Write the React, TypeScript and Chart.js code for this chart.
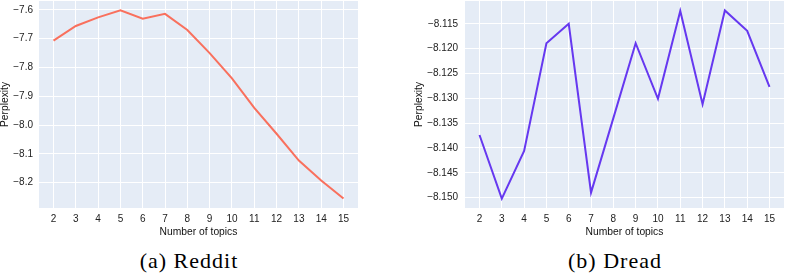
import React, { useEffect, useRef } from "react";
import { Chart, registerables } from "chart.js";

Chart.register(...registerables);

const topics = [2, 3, 4, 5, 6, 7, 8, 9, 10, 11, 12, 13, 14, 15];
const redditPerplexity = [-7.707, -7.656, -7.626, -7.602, -7.631, -7.614, -7.67, -7.75, -7.838, -7.94, -8.03, -8.123, -8.192, -8.255];
const dreadPerplexity = [-8.1374, -8.1502, -8.1406, -8.1189, -8.115, -8.149, -8.134, -8.1189, -8.1301, -8.1124, -8.1312, -8.1123, -8.1164, -8.1277];
const redditYTicks = [-8.2, -8.1, -8.0, -7.9, -7.8, -7.7, -7.6];
const dreadYTicks = [-8.15, -8.145, -8.14, -8.135, -8.13, -8.125, -8.12, -8.115];
const xTitle = "Number of topics";
const yTitle = "Perplexity";

const bgPlugin = {
  id: "plotBg",
  beforeDraw(chart: any) {
    const { ctx, chartArea } = chart;
    if (!chartArea) return;
    ctx.save();
    ctx.fillStyle = "#E5ECF6";
    ctx.fillRect(chartArea.left, chartArea.top, chartArea.right - chartArea.left, chartArea.bottom - chartArea.top);
    ctx.restore();
  },
};

function pad(arr: number[]) {
  const mn = Math.min(...arr);
  const mx = Math.max(...arr);
  const m = (mx - mn) * 0.05;
  return [mn - m, mx + m];
}

type PanelProps = {
  values: number[];
  yTicks: number[];
  decimals: number;
  color: string;
  left: number;
  width: number;
  yWidth: number;
  yPad: number;
};

const CANVAS_H = 237;

function Panel({ values, yTicks, decimals, color, left, width, yWidth, yPad }: PanelProps) {
  const ref = useRef<HTMLCanvasElement | null>(null);
  useEffect(() => {
    if (!ref.current) return;
    const [xmin, xmax] = pad(topics);
    const [ymin, ymax] = pad(values);
    const tickFont = { family: "'Liberation Sans', Arial, sans-serif", size: 10 };
    const titleFont = { family: "'Liberation Sans', Arial, sans-serif", size: 10.3, lineHeight: 1 };
    const chart = new Chart(ref.current, {
      type: "line",
      data: {
        datasets: [
          {
            data: topics.map((t, i) => ({ x: t, y: values[i] })),
            borderColor: color,
            borderWidth: 2,
            pointRadius: 0,
            tension: 0,
            fill: false,
          },
        ],
      },
      options: {
        animation: false,
        responsive: false,
        maintainAspectRatio: false,
        layout: { padding: { top: 1, left: 0, right: 0, bottom: 0 } },
        plugins: { legend: { display: false }, tooltip: { enabled: false } },
        scales: {
          x: {
            type: "linear",
            min: xmin,
            max: xmax,
            afterBuildTicks: (s: any) => {
              s.ticks = topics.map((v) => ({ value: v }));
            },
            afterFit: (s: any) => {
              s.height = 29;
              s.paddingLeft = 0;
              s.paddingRight = 0;
              s.paddingTop = 0;
              s.paddingBottom = 0;
            },
            grid: { color: "#FFFFFF", lineWidth: 1, drawTicks: false },
            border: { display: false },
            ticks: {
              color: "#222",
              font: tickFont,
              padding: 5,
              maxRotation: 0,
              autoSkip: false,
              callback: (v: any) => String(v),
            },
            title: { display: true, text: xTitle, color: "#111", font: titleFont, padding: 0 },
          },
          y: {
            type: "linear",
            min: ymin,
            max: ymax,
            afterBuildTicks: (s: any) => {
              s.ticks = yTicks.map((v) => ({ value: v }));
            },
            afterFit: (s: any) => {
              s.width = yWidth;
              s.paddingLeft = 0;
              s.paddingRight = 0;
              s.paddingTop = 0;
              s.paddingBottom = 0;
            },
            grid: { color: "#FFFFFF", lineWidth: 1, drawTicks: false },
            border: { display: false },
            ticks: {
              color: "#222",
              font: tickFont,
              padding: yPad,
              autoSkip: false,
              callback: (v: any) => Number(v).toFixed(decimals).replace("-", "\u2212"),
            },
            title: { display: true, text: yTitle, color: "#111", font: titleFont, padding: 0 },
          },
        },
      },
      plugins: [bgPlugin],
    } as any);
    return () => chart.destroy();
  }, []);
  return (
    <canvas
      ref={ref}
      width={width}
      height={CANVAS_H}
      style={{ position: "absolute", left, top: 0, width, height: CANVAS_H }}
    />
  );
}

const captionStyle: React.CSSProperties = {
  position: "absolute",
  top: 250,
  width: 200,
  textAlign: "center",
  fontFamily: "'Liberation Serif', 'Times New Roman', serif",
  fontSize: 22,
  lineHeight: "22px",
  letterSpacing: "1px",
  color: "#000",
  whiteSpace: "nowrap",
};

export default function App() {
  return (
    <div style={{ position: "absolute", left: 0, top: 0, width: 785, height: 275, background: "#fff", overflow: "hidden" }}>
      <Panel values={redditPerplexity} yTicks={redditYTicks} decimals={1} color="#F9705D" left={0} width={358} yWidth={39} yPad={6} />
      <Panel values={dreadPerplexity} yTicks={dreadYTicks} decimals={3} color="#6638F0" left={414} width={370} yWidth={51} yPad={7} />
      <div style={{ ...captionStyle, left: 89 }}>(a) Reddit</div>
      <div style={{ ...captionStyle, left: 515 }}>(b) Dread</div>
    </div>
  );
}
